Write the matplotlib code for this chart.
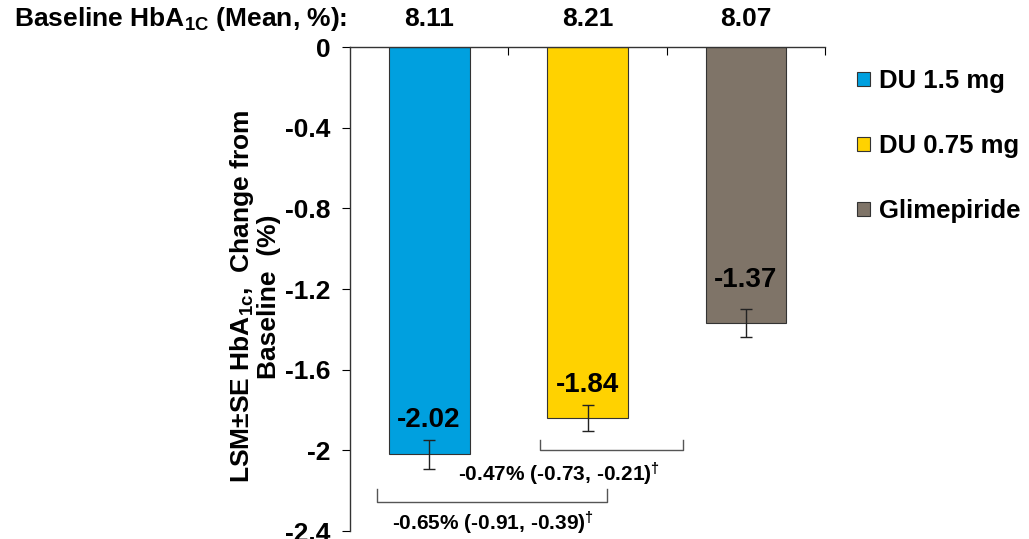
import matplotlib.pyplot as plt
from matplotlib.patches import Patch

plt.rcParams['font.family'] = ['Liberation Sans', 'DejaVu Sans']
plt.rcParams['font.weight'] = 'bold'
plt.rcParams['mathtext.fontset'] = 'custom'
plt.rcParams['mathtext.rm'] = 'Liberation Sans:bold'
plt.rcParams['mathtext.it'] = 'Liberation Sans:bold'
plt.rcParams['mathtext.bf'] = 'Liberation Sans:bold'

# data
groups = ['DU 1.5 mg', 'DU 0.75 mg', 'Glimepiride']
lsm = [-2.02, -1.84, -1.37]
se = [0.07, 0.065, 0.07]
baseline = ['8.11', '8.21', '8.07']
colors = ['#00A0DF', '#FFD200', '#7F7468']
yticks = [0, -0.4, -0.8, -1.2, -1.6, -2, -2.4]
ytick_labels = ['0', '-0.4', '-0.8', '-1.2', '-1.6', '-2', '-2.4']
diff_labels = ['-0.47% (-0.73, -0.21)$^{\u2020}$', '-0.65% (-0.91, -0.39)$^{\u2020}$']

fig = plt.figure(figsize=(10.29, 5.39), dpi=100)
ax = fig.add_axes([0.340, 0.0148, 0.462, 0.898])

x = range(len(groups))
ax.bar(x, lsm, width=0.51, color=colors, edgecolor='#333333', linewidth=0.8)
ax.errorbar(x, lsm, yerr=se, fmt='none', ecolor='#222222', elinewidth=1, capsize=4, capthick=1)

offsets = [25, 24, 31]
for xi, v, off in zip(x, lsm, offsets):
    ax.annotate(f'{v:.2f}', (xi, v), xytext=(0, off), textcoords='offset points',
                ha='center', va='center', fontsize=20, fontweight='bold')

ax.set_xlim(-0.5, 2.5)
ax.set_ylim(-2.4, 0)
ax.set_yticks(yticks)
ax.set_yticklabels(ytick_labels, fontsize=19, fontweight='bold')
ax.tick_params(axis='y', direction='out', length=6, pad=8)
ax.xaxis.tick_top()
ax.set_xticks([0.5, 1.5, 2.5])
ax.set_xticklabels([])
ax.tick_params(axis='x', direction='in', length=6)
ax.spines['right'].set_visible(False)
ax.spines['bottom'].set_visible(False)
for s in ['top', 'left']:
    ax.spines[s].set_linewidth(1)
    ax.spines[s].set_color('#333333')

# brackets (data coords)
bc = '#555555'
ax.plot([0.70, 0.70, 1.60, 1.60], [-1.95, -2.0, -2.0, -1.95], color=bc, lw=1, clip_on=False)
ax.plot([-0.33, -0.33, 1.12, 1.12], [-2.19, -2.255, -2.255, -2.19], color=bc, lw=1, clip_on=False)
ax.text(0.82, -2.12, diff_labels[0], ha='center', va='center', fontsize=15, fontweight='bold')
ax.text(0.40, -2.36, diff_labels[1], ha='center', va='center', fontsize=15, fontweight='bold')

# baseline row
fig.text(0.337, 0.965, 'Baseline HbA$_{1C}$ (Mean, %):', ha='right', va='center', fontsize=19, fontweight='bold')
for xi, b in zip(x, baseline):
    xf = fig.transFigure.inverted().transform(ax.transData.transform((xi, 0)))[0]
    fig.text(xf, 0.965, b, ha='center', va='center', fontsize=19, fontweight='bold')

fig.text(0.247, 0.45, 'LSM\u00b1SE HbA$_{1c}$,  Change from\nBaseline  (%)', rotation=90,
         ha='center', va='center', fontsize=19, fontweight='bold', multialignment='center',
         linespacing=1.05)

handles = [Patch(facecolor=c, edgecolor='#333333', linewidth=0.8) for c in colors]
fig.legend(handles, groups, loc='upper left', bbox_to_anchor=(0.833, 0.872), frameon=False,
           handlelength=0.5, handleheight=0.5, handletextpad=0.35,
           labelspacing=1.6, borderaxespad=0, borderpad=0,
           prop={'weight': 'bold', 'size': 18.5})

fig.savefig('out.png', dpi=100)
